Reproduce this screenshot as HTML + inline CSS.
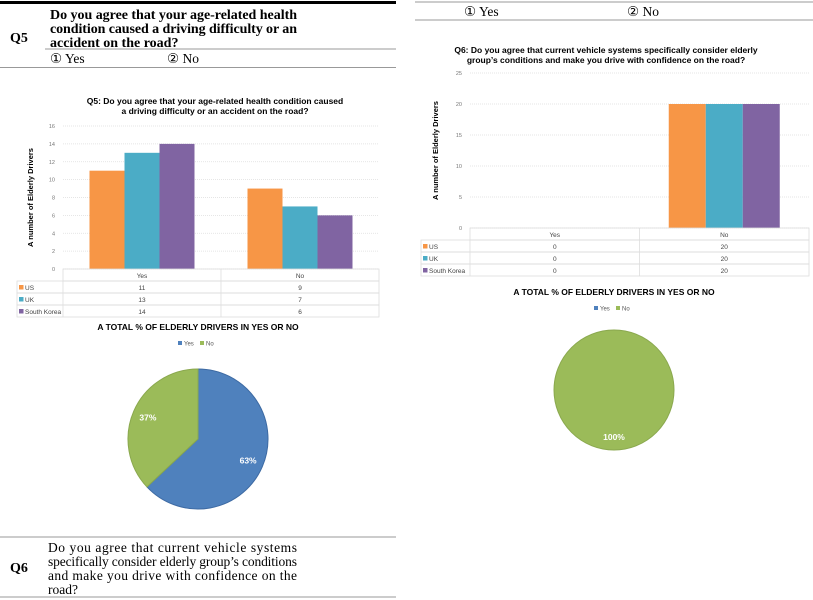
<!DOCTYPE html>
<html><head><meta charset="utf-8"><style>
body{margin:0;background:#fff;width:813px;height:600px;overflow:hidden;position:relative;font-family:"Liberation Serif",serif}
</style></head><body>
<svg width="813" height="600" xmlns="http://www.w3.org/2000/svg" style="position:absolute;left:0;top:0">
<g font-family="Liberation Serif, serif" fill="#000">
<rect x="0" y="1" width="396" height="3" fill="#000"/>
<text x="10" y="42" font-size="14" font-weight="bold">Q5</text>
<text x="50" y="19" font-size="14" font-weight="bold" textLength="247">Do you agree that your age-related health</text>
<text x="50" y="33" font-size="14" font-weight="bold" textLength="247">condition caused a driving difficulty or an</text>
<text x="50" y="47" font-size="14" font-weight="bold">accident on the road?</text>
<line x1="45" y1="49" x2="396" y2="49" stroke="#999"/>
<text x="50" y="63" font-size="13.5">① Yes</text>
<text x="167" y="63" font-size="13.5">② No</text>
<line x1="0" y1="67.5" x2="396" y2="67.5" stroke="#999"/>
</g>
<g font-family="Liberation Serif, serif">
<line x1="415" y1="2" x2="813" y2="2" stroke="#999"/>
<text x="464" y="16" font-size="13.5">① Yes</text>
<text x="627" y="16" font-size="13.5">② No</text>
<line x1="415" y1="20" x2="813" y2="20" stroke="#999"/>
</g>
<g font-family="Liberation Serif, serif">
<line x1="0" y1="537" x2="396" y2="537" stroke="#999"/>
<text x="10" y="572" font-size="14" font-weight="bold">Q6</text>
<text x="48" y="552" font-size="13.5" textLength="249">Do you agree that current vehicle systems</text>
<text x="48" y="566" font-size="13.5" textLength="249">specifically consider elderly group’s conditions</text>
<text x="48" y="580" font-size="13.5" textLength="249">and make you drive with confidence on the</text>
<text x="48" y="594" font-size="13.5">road?</text>
<line x1="0" y1="597" x2="396" y2="597" stroke="#999"/>
</g>
<g id="c1"></g>
<g id="c2"></g>
<g id="p1"></g>
<g id="p2"></g>
</svg>
<script>
const categories=["Yes","No"];
const seriesNames=["US","UK","South Korea"];
const q5US=[11,9], q5UK=[13,7], q5SK=[14,6];
const q6US=[0,20], q6UK=[0,20], q6SK=[0,20];
const q5Ticks=[0,2,4,6,8,10,12,14,16];
const q6Ticks=[0,5,10,15,20,25];
const pie1Values=[63,37];
const pie2Values=[0,100];
const pieLabels=["Yes","No"];
const colors=["#f79646","#4bacc6","#8064a2"];
const pieColors=["#4f81bd","#9bbb59"];
const NS="http://www.w3.org/2000/svg";
function mk(p,t,a,txt){const e=document.createElementNS(NS,t);for(const k in a)e.setAttribute(k,a[k]);if(txt!==undefined)e.textContent=txt;p.appendChild(e);return e;}

function bar(g,o){
  const series=o.series;
  const y=v=>o.y0-(v/o.max)*(o.y0-o.y1);
  mk(g,"text",{x:o.titleX,y:o.titleY,"font-size":8.5,"font-weight":"bold","text-anchor":"middle","font-family":"Liberation Sans, sans-serif"},o.title1);
  mk(g,"text",{x:o.titleX,y:o.titleY+10,"font-size":8.5,"font-weight":"bold","text-anchor":"middle","font-family":"Liberation Sans, sans-serif"},o.title2);
  o.ticks.forEach(t=>{
    const gl=mk(g,"line",{x1:o.x0,x2:o.x1,y1:y(t),y2:y(t),stroke:"#ddd","stroke-width":0.8,"stroke-dasharray":"1,1"});
    
    
    const tl=mk(g,"text",{x:o.x0-8,y:y(t)+2,"font-size":5.5,fill:"#777","text-anchor":"end","font-family":"Liberation Sans, sans-serif"},t);
    
    
  });
  const yt=mk(g,"text",{transform:`translate(${o.ytX},${(o.y0+o.y1)/2}) rotate(-90)`,"font-size":7.5,"font-weight":"bold","text-anchor":"middle","font-family":"Liberation Sans, sans-serif"},"A number of Elderly Drivers");
  
  
  const cw=(o.x1-o.x0)/categories.length;
  categories.forEach((c,ci)=>{
    const cx=o.x0+cw*(ci+0.5);
    series.forEach((s,si)=>{
      const v=s[ci]; if(v<=0) return;
      const r=mk(g,"rect",{x:cx-o.bw*1.5+o.bw*si+o.shift,y:y(v),width:o.bw,height:o.y0-y(v),fill:colors[si]});
      
      
    });
  });
  const rh=12, tl=o.legX;
  mk(g,"rect",{x:o.x0,y:o.y0,width:o.x1-o.x0,height:rh,fill:"none",stroke:"#ddd","stroke-width":0.8});
  mk(g,"line",{x1:o.x0+cw,x2:o.x0+cw,y1:o.y0,y2:o.y0+rh*4,stroke:"#ddd","stroke-width":0.8});
  categories.forEach((c,ci)=>{mk(g,"text",{x:o.x0+cw*(ci+0.5),y:o.y0+9,"font-size":6.5,fill:"#444","text-anchor":"middle","font-family":"Liberation Sans, sans-serif"},c);});
  series.forEach((s,si)=>{
    const ry=o.y0+rh*(si+1);
    const row=mk(g,"rect",{x:tl,y:ry,width:o.x1-tl,height:rh,fill:"none",stroke:"#ddd","stroke-width":0.8});
    
    
    mk(g,"line",{x1:o.x0,x2:o.x0,y1:ry,y2:ry+rh,stroke:"#ddd","stroke-width":0.8});
    mk(g,"rect",{x:tl+2,y:ry+4,width:4.5,height:4.5,fill:colors[si]});
    mk(g,"text",{x:tl+8,y:ry+9,"font-size":6.5,fill:"#444","font-family":"Liberation Sans, sans-serif"},seriesNames[si]);
    categories.forEach((c,ci)=>{mk(g,"text",{x:o.x0+cw*(ci+0.5),y:ry+9,"font-size":6.5,fill:"#444","text-anchor":"middle","font-family":"Liberation Sans, sans-serif"},s[ci]);});
  });
}
bar(document.getElementById("c1"),{series:[q5US,q5UK,q5SK],ticks:q5Ticks,max:16,x0:63,x1:379,y0:269,y1:126,bw:35,shift:0,
 legX:17,ytX:33,titleX:215,titleY:104,title1:"Q5: Do you agree that your age-related health condition caused",title2:"a driving difficulty or an accident on the road?"});
bar(document.getElementById("c2"),{series:[q6US,q6UK,q6SK],ticks:q6Ticks,max:25,x0:470,x1:809,y0:228,y1:73,bw:37,shift:0,
 legX:421,ytX:438,titleX:606,titleY:53,title1:"Q6: Do you agree that current vehicle systems specifically consider elderly",title2:"group’s conditions and make you drive with confidence on the road?"});

function pie(g,o,vals){
  mk(g,"text",{x:o.cx,y:o.ty,"font-size":8.5,"font-weight":"bold","text-anchor":"middle","font-family":"Liberation Sans, sans-serif"},"A TOTAL % OF ELDERLY DRIVERS IN YES OR NO");
  pieLabels.forEach((l,i)=>{
    const lx=o.cx-14+i*22;
    mk(g,"rect",{x:lx-6,y:o.ty+11,width:4,height:4,fill:pieColors[i]});
    const t=mk(g,"text",{x:lx,y:o.ty+15.5,"font-size":6,fill:"#555","font-family":"Liberation Sans, sans-serif"},l);
    
    
  });
  const tot=vals.reduce((a,b)=>a+b,0);
  let a=0;
  vals.forEach((v,i)=>{
    if(v<=0) return;
    const f=v/tot;
    let el;
    if(f>=0.9999){el=mk(g,"circle",{cx:o.cx,cy:o.cy,r:o.r,fill:pieColors[i],stroke:"#8aa84e","stroke-width":1});}
    else{
      const a0=a*2*Math.PI, a1=(a+f)*2*Math.PI;
      const x0=o.cx+o.r*Math.sin(a0), y0=o.cy-o.r*Math.cos(a0);
      const x1=o.cx+o.r*Math.sin(a1), y1=o.cy-o.r*Math.cos(a1);
      el=mk(g,"path",{d:`M${o.cx},${o.cy}L${x0},${y0}A${o.r},${o.r} 0 ${f>0.5?1:0} 1 ${x1},${y1}Z`,fill:pieColors[i],stroke:i==0?"#3d6aa3":"#8aa84e","stroke-width":1});
    }
    
    
    const mid=(a+f/2)*2*Math.PI, lr=o.r*0.78;
    mk(g,"text",{x:o.cx+lr*Math.sin(mid),y:o.cy-lr*Math.cos(mid)+3,"font-size":8.5,"font-weight":"bold",fill:"#fff","text-anchor":"middle","font-family":"Liberation Sans, sans-serif"},v+"%");
    a+=f;
  });
}
pie(document.getElementById("p1"),{cx:198,cy:439,r:70,ty:330},pie1Values);
pie(document.getElementById("p2"),{cx:614,cy:390,r:60,ty:295},pie2Values);
</script>
</body></html>
